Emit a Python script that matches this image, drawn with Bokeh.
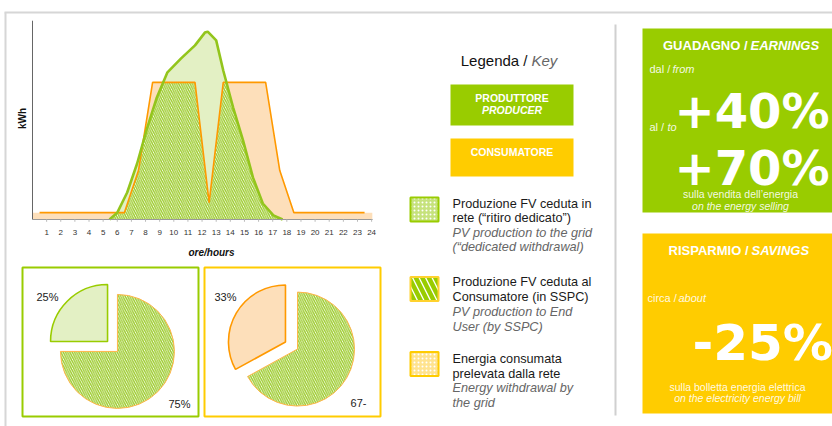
import numpy as np
from bokeh.plotting import figure
from bokeh.models import Range1d
from bokeh.core.properties import value
from bokeh.embed import file_html
from bokeh.resources import INLINE

# ---------------- data ----------------
hours_ticks = list(range(1, 25))
tick_labels = [str(h) for h in hours_ticks]

prod_hours = [5.45, 6.0, 6.7, 7.4, 8.1, 8.8, 9.55, 10.5, 11.5, 12.2, 12.4, 13.0, 13.5, 14.2, 14.9, 15.6, 16.3, 17.05, 17.7]
prod_kwh = [0.0, 0.15, 0.59, 1.22, 1.99, 2.67, 3.22, 3.52, 3.81, 4.09, 4.11, 3.92, 3.26, 2.45, 1.73, 0.92, 0.35, 0.09, 0.0]

cons_hours = [0.5, 6.5, 7.5, 8.5, 11.5, 12.5, 13.5, 16.5, 17.5, 18.5, 23.5]
cons_kwh = [0.15, 0.15, 1.07, 3.0, 3.0, 0.37, 3.0, 3.0, 1.07, 0.15, 0.15]

producer_split = [25, 75]
producer_labels = ["25%", "75%"]
consumer_split = [33, 67]
consumer_labels = ["33%", "67-"]

# ---------------- styles ----------------
FONT = "Liberation Sans"
GREEN = "#99CC00"
YELLOW = "#FFCC00"
ORANGE = "#FF9900"
PEACH = "#FDDFBA"
LGREEN = "#E3F0C4"
GRAY = "#D6D6D6"
HATCH = "#9CCB2C"

W, H = 832, 426


def X(v):
    return v


def Y(v):
    return H - v


p = figure(width=W, height=H, x_range=Range1d(0, W), y_range=Range1d(0, H),
           output_backend="svg", toolbar_location=None, min_border=0,
           x_axis_location=None, y_axis_location=None)
p.grid.visible = False
p.outline_line_color = None
p.background_fill_color = "white"
p.border_fill_color = "white"


def txt(x, y, s, size, color="#222222", style="normal", align="left",
        baseline="middle", font=FONT, alpha=1.0, angle=0):
    p.text(x=[x], y=[y], text=[s], text_font_size=f"{size}px", text_color=color,
           text_font_style=style, text_align=align, text_baseline=baseline,
           text_font=value(font), text_alpha=alpha, angle=angle)


# ---------------- frame lines ----------------
p.line(x=[X(5), X(5)], y=[Y(12), 0], line_color=GRAY, line_width=2)
p.line(x=[X(4), W], y=[Y(12), Y(12)], line_color=GRAY, line_width=2)
p.line(x=[X(615), X(615)], y=[Y(24), Y(415)], line_color="#D0D0D0", line_width=2)

# ---------------- area chart (own scales) ----------------
px_per_hour = 14.13
x0_px = X(32)
px_per_kwh = 45.7
y0_px = Y(219)
p.extra_x_ranges = {"h": Range1d(-x0_px / px_per_hour, (W - x0_px) / px_per_hour)}
p.extra_y_ranges = {"k": Range1d(-y0_px / px_per_kwh, (H - y0_px) / px_per_kwh)}
ck = dict(x_range_name="h", y_range_name="k")

# consumer fill (band spans whole day)
fill_h = [0.0] + cons_hours + [24.05]
fill_v = [cons_kwh[0]] + cons_kwh + [cons_kwh[-1]]
p.varea(x=fill_h, y1=[0] * len(fill_h), y2=fill_v, fill_color=PEACH, **ck)
# producer fill
p.varea(x=prod_hours, y1=[0] * len(prod_hours), y2=prod_kwh, fill_color=LGREEN, **ck)
# self consumption = min(production, consumption)
grid = np.union1d(np.linspace(prod_hours[0], prod_hours[-1], 600),
                  np.array(prod_hours))
self_cons = np.minimum(np.interp(grid, prod_hours, prod_kwh),
                       np.interp(grid, fill_h, fill_v))
p.varea(x=grid, y1=np.zeros_like(grid), y2=self_cons, fill_color="white",
        hatch_pattern="\\", hatch_color=HATCH, hatch_scale=4.5, hatch_weight=1.4, **ck)

p.line(x=cons_hours, y=cons_kwh, line_color=ORANGE, line_width=1.6, **ck)
p.line(x=prod_hours, y=prod_kwh, line_color="#93C51C", line_width=2.6, **ck)

# axes
axis_top = 4.35
p.line(x=[0, 0], y=[0, axis_top], line_color="#666666", line_width=1, **ck)
p.line(x=[0, 24.07], y=[0, 0], line_color="#999999", line_width=1, **ck)
p.segment(x0=hours_ticks, y0=[0] * 24, x1=hours_ticks, y1=[-0.05] * 24,
          line_color="#BBBBBB", line_width=1, **ck)
p.text(x=hours_ticks, y=[0] * 24, text=tick_labels, y_offset=13,
       text_font_size="8px", text_align="center", text_baseline="middle",
       text_color="#333333", text_font=value(FONT), **ck)
txt(X(22), Y(118), "kWh", 10, color="#111111", style="bold", align="center",
    angle=np.pi / 2)
txt(X(211), Y(252), "ore/hours", 10, color="#111111", style="bold italic",
    align="center")

# ---------------- pies ----------------
p.rect(x=[(X(22) + X(198)) / 2], y=[(Y(267) + Y(416)) / 2], width=X(198) - X(22),
       height=Y(267) - Y(416), fill_color=None, line_color=GREEN, line_width=2)
p.rect(x=[(X(204) + X(380)) / 2], y=[(Y(267) + Y(416)) / 2], width=X(380) - X(204),
       height=Y(267) - Y(416), fill_color=None, line_color=YELLOW, line_width=2)


def pie(cx, cy, shares, small_fill, small_line, r=57, d=7):
    a0 = np.pi / 2
    a1 = a0 + shares[0] / 100 * 2 * np.pi
    mid = (a0 + a1) / 2
    dx, dy = d * np.cos(mid), d * np.sin(mid)
    p.wedge(x=[cx - dx], y=[cy - dy], radius=r, start_angle=a1, end_angle=a0 + 2 * np.pi,
            fill_color="white", hatch_pattern="\\", hatch_color=HATCH,
            hatch_scale=4.5, hatch_weight=1.4, line_color="#FFB54A", line_width=1)
    p.wedge(x=[cx + dx], y=[cy + dy], radius=r, start_angle=a0, end_angle=a1,
            fill_color=small_fill, line_color=small_line, line_width=1.6)


pie(X(112), Y(346), producer_split, LGREEN, GREEN)
pie(X(291), Y(345), consumer_split, PEACH, ORANGE)
txt(X(47), Y(296), producer_labels[0], 11, align="center")
txt(X(179), Y(403), producer_labels[1], 11, align="center")
txt(X(225), Y(296), consumer_labels[0], 11, align="center")
txt(X(358), Y(402), consumer_labels[1], 11, align="center")

# ---------------- legend ----------------
txt(X(527), Y(60), "Legenda /", 15, color="#111111", align="right")
txt(X(531), Y(60), "Key", 15, color="#666666", style="italic")

p.rect(x=[(X(450) + X(573)) / 2], y=[(Y(84) + Y(125)) / 2], width=123, height=41,
       fill_color=GREEN, line_color=None)
txt(X(511.5), Y(97), "PRODUTTORE", 10.5, color="white", style="bold", align="center")
txt(X(511.5), Y(109), "PRODUCER", 10.5, color="white", style="bold italic", align="center")
p.rect(x=[(X(450) + X(573)) / 2], y=[(Y(138) + Y(176)) / 2], width=123, height=38,
       fill_color=YELLOW, line_color=None)
txt(X(511.5), Y(151), "CONSUMATORE", 10.5, color="white", style="bold", align="center")

icx = (X(409) + X(439)) / 2
p.rect(x=[icx], y=[(Y(196) + Y(222)) / 2], width=28, height=24, fill_color="#C6E27C",
       hatch_pattern=".", hatch_color="white", hatch_scale=4, hatch_weight=1.6,
       line_color=GREEN, line_width=2)
p.rect(x=[icx], y=[(Y(276) + Y(301)) / 2], width=28, height=24, fill_color="white",
       hatch_pattern="\\", hatch_color=GREEN, hatch_scale=13, hatch_weight=4.5,
       line_color="#FFD22E", line_width=2)
p.rect(x=[icx], y=[(Y(351) + Y(376)) / 2], width=28, height=24, fill_color="#FFE38E",
       hatch_pattern=".", hatch_color="white", hatch_scale=4, hatch_weight=1.6,
       line_color=YELLOW, line_width=2)

lx = X(452)
items = [
    ([203, 217], ["Produzione FV ceduta in", "rete (\u201critiro dedicato\u201d)"],
     [232, 246], ["PV production to the grid", "(\u201cdedicated withdrawal)"]),
    ([281, 296], ["Produzione FV ceduta al", "Consumatore (in SSPC)"],
     [311, 326], ["PV production to End", "User (by SSPC)"]),
    ([358, 373], ["Energia consumata", "prelevata dalla rete"],
     [387, 402], ["Energy withdrawal by", "the grid"]),
]
for ys_it, it_lines, ys_en, en_lines in items:
    for yy, s in zip(ys_it, it_lines):
        txt(lx, Y(yy), s, 12.7, color="#1A1A1A")
    for yy, s in zip(ys_en, en_lines):
        txt(lx, Y(yy), s, 12.7, color="#666666", style="italic")

# ---------------- right boxes ----------------
p.rect(x=[(X(642) + W + 20) / 2], y=[(Y(28) + Y(212)) / 2], width=W + 20 - X(642),
       height=Y(28) - Y(212), fill_color=GREEN, line_color=None)
txt(X(747), Y(45), "GUADAGNO /", 13, color="white", style="bold", align="right")
txt(X(750), Y(45), "EARNINGS", 13, color="white", style="bold italic")
txt(X(649), Y(68), "dal /", 11, color="white", alpha=0.9)
txt(X(672), Y(68), "from", 11, color="white", style="italic", alpha=0.9)
txt(X(674), Y(110), "+40%", 48, color="white", style="bold", baseline="alphabetic",
    font="DejaVu Sans")
txt(X(649), Y(126), "al /", 11, color="white", alpha=0.9)
txt(X(667), Y(126), "to", 11, color="white", style="italic", alpha=0.9)
txt(X(674), Y(167), "+70%", 48, color="white", style="bold", baseline="alphabetic",
    font="DejaVu Sans")
txt(X(740), Y(193), "sulla vendita dell\u2019energia", 10.5, color="white",
    align="center", alpha=0.9)
txt(X(740), Y(205), "on the energy selling", 10.5, color="white", style="italic",
    align="center", alpha=0.9)

p.rect(x=[(X(642) + W + 20) / 2], y=[(Y(233) + Y(413)) / 2], width=W + 20 - X(642),
       height=Y(233) - Y(413), fill_color=YELLOW, line_color=None)
txt(X(748), Y(250), "RISPARMIO /", 13, color="white", style="bold", align="right")
txt(X(751), Y(250), "SAVINGS", 13, color="white", style="bold italic")
txt(X(647), Y(297), "circa /", 11, color="white", alpha=0.9)
txt(X(678), Y(297), "about", 11, color="white", style="italic", alpha=0.9)
txt(X(692), Y(342), "-25%", 50, color="white", style="bold", baseline="alphabetic",
    font="DejaVu Sans")
txt(X(737), Y(386), "sulla bolletta energia elettrica", 10.5, color="white",
    align="center", alpha=0.9)
txt(X(737), Y(397), "on the electricity energy bill", 10.5, color="white",
    style="italic", align="center", alpha=0.9)

open("out.html", "w").write(file_html(p, INLINE))
